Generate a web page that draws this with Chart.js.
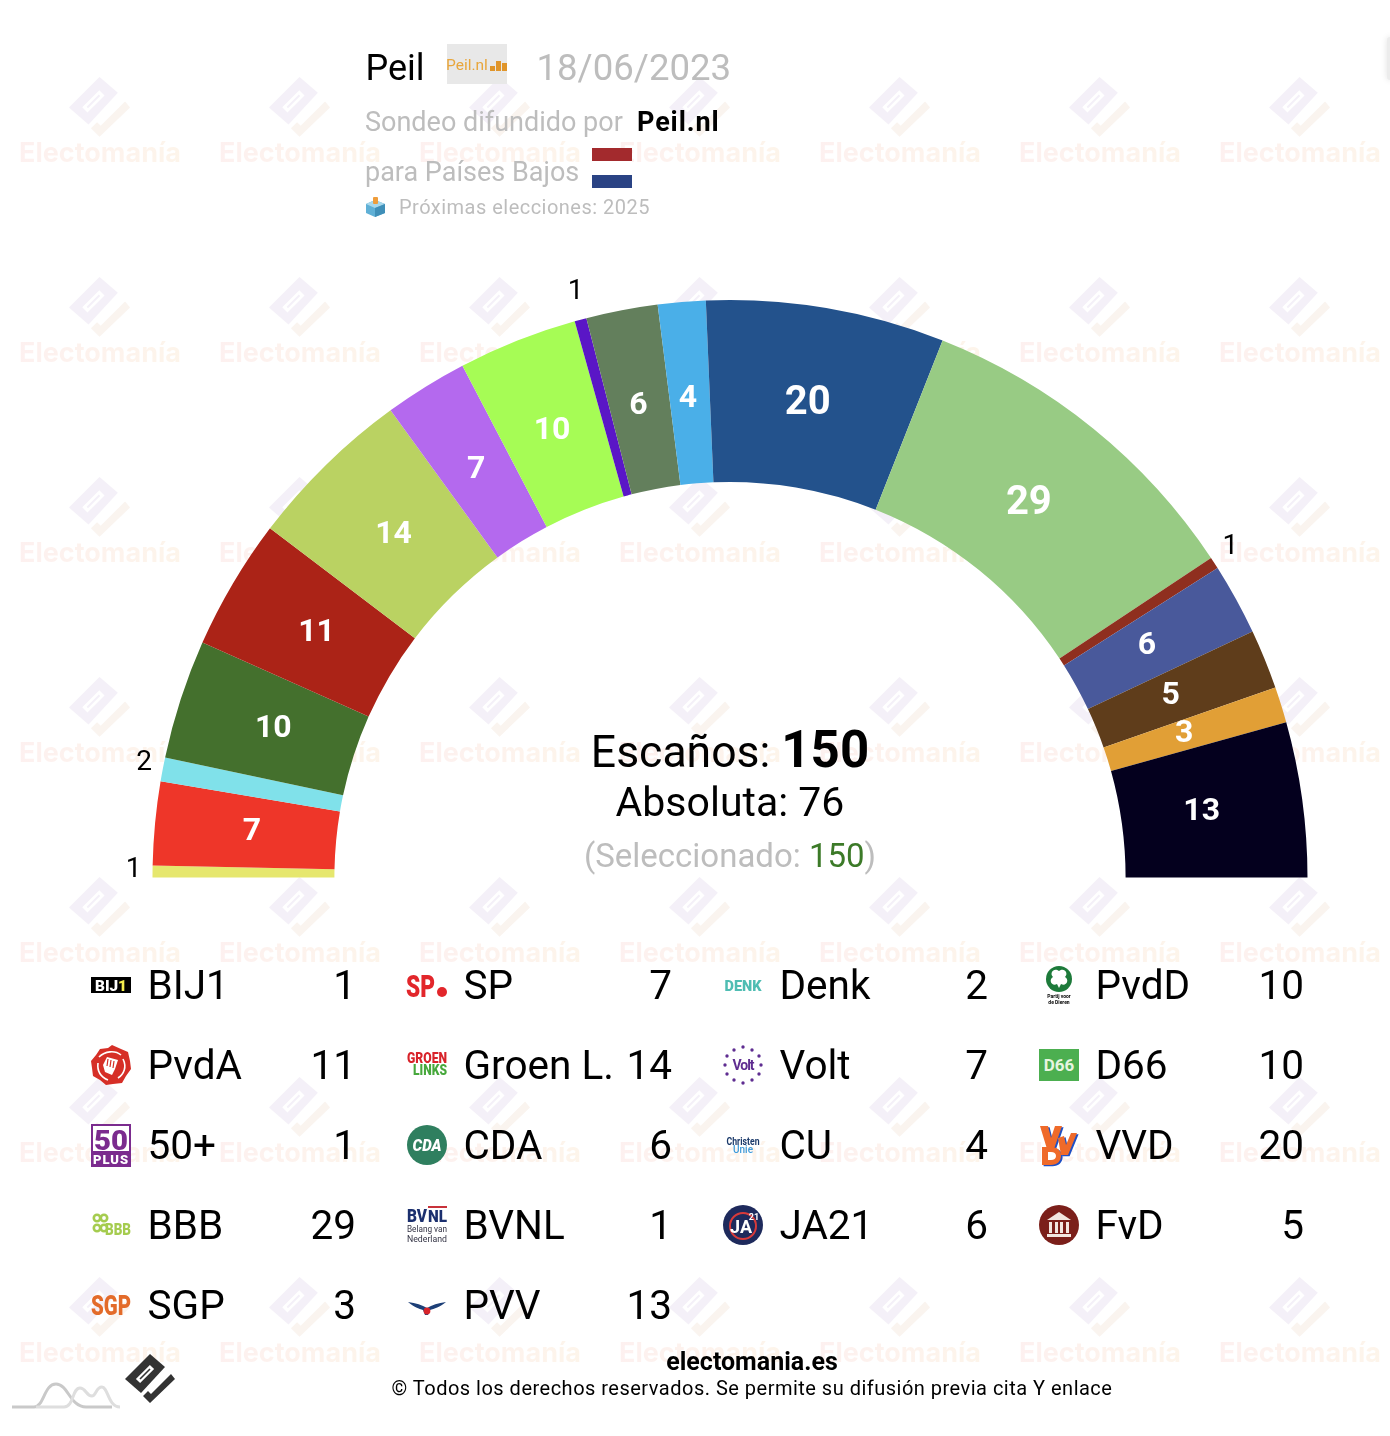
<!DOCTYPE html>
<html lang="es">
<head>
<meta charset="utf-8">
<title>Peil 18/06/2023</title>
<script src="https://cdn.jsdelivr.net/npm/chart.js@4"></script>
<style>
  html, body { margin: 0; padding: 0; background: #fff; }
  body { width: 1390px; height: 1436px; position: relative; overflow: hidden; font-family: Roboto, sans-serif; color: #000; }
  .abs { position: absolute; white-space: nowrap; line-height: 1; }
  #chart { position: absolute; left: 0; top: 0; }
  .wm-text { position: absolute; width: 200px; text-align: center; font: 700 27px Inter, sans-serif; line-height: 30px;
    background: linear-gradient(90deg, #fdf0f0, #fdf5ea); -webkit-background-clip: text; background-clip: text; color: transparent; }
  .wm-mark { position: absolute; width: 61px; height: 61px; }
  .grey { color: #bdbdbd; }
  .center { left: 330px; width: 800px; text-align: center; }
  #legend { position: absolute; left: 91px; top: 945px; display: grid; grid-template-columns: repeat(4, 316px); grid-auto-rows: 80px; }
  .item { position: relative; height: 80px; font-size: 40.5px; }
  .item svg { position: absolute; left: 0; top: 20px; width: 40px; height: 40px; overflow: visible; }
  .item .name { position: absolute; left: 56.5px; top: 20px; line-height: 40px; }
  .item .val { position: absolute; left: 0; width: 265px; text-align: right; top: 20px; line-height: 40px; }
</style>
</head>
<body>
<div id="watermark"></div>
<canvas id="chart" width="1390" height="1436"></canvas>

<div class="abs" style="left:1387px;top:37px;width:6px;height:43px;background:#ececec;border-radius:3px;box-shadow:0 0 6px rgba(0,0,0,.12)"></div>

<div class="abs" style="left:365.5px;top:50px;font-size:36px">Peil</div>
<div class="abs" style="left:447px;top:44px;width:60px;height:40px;background:#e8e8e8"></div>
<div class="abs" style="left:446px;top:58px;font-size:15.5px;color:#e8a63c">Peil.nl</div>
<svg class="abs" style="left:490px;top:61px" width="17" height="10"><rect x="0" y="5" width="5" height="5" fill="#e0952a"/><rect x="6" y="0" width="5" height="10" fill="#e0952a"/><rect x="12" y="2" width="5" height="8" fill="#e0952a"/></svg>
<div class="abs grey" style="left:536.5px;top:50px;font-size:36.6px">18/06/2023</div>
<div class="abs grey" style="left:365px;top:109px;font-size:27px">Sondeo difundido por</div>
<div class="abs" style="left:637px;top:109px;font-size:27px;font-weight:700;letter-spacing:.9px">Peil.nl</div>
<div class="abs grey" style="left:365px;top:159px;font-size:27px">para Países Bajos</div>
<svg class="abs" style="left:592px;top:148px" width="40" height="40"><rect width="40" height="13" fill="#a32a2d"/><rect y="13" width="40" height="14" fill="#fff"/><rect y="27" width="40" height="13" fill="#2a4384"/></svg>
<svg class="abs" style="left:365px;top:197px" width="21" height="21" viewBox="0 0 21 21"><polygon points="1,7 10,3 20,7 20,16 10,20 1,16" fill="#5fb0d6"/><polygon points="1,7 10,11 20,7 10,3" fill="#a8d8ec"/><polygon points="10,11 20,7 20,16 10,20" fill="#3f8fb8"/><rect x="8" y="0" width="5" height="7" rx="1" fill="#ef9d3b"/></svg>
<div class="abs grey" style="left:399px;top:197px;font-size:20px;letter-spacing:.48px">Próximas elecciones: 2025</div>

<div class="abs center" style="top:724px;font-size:44.5px">Escaños: <b style="font-size:51px">150</b></div>
<div class="abs center" style="top:782px;font-size:41px">Absoluta: 76</div>
<div class="abs center grey" style="top:839px;font-size:33px">(Seleccionado: <span style="color:#3c7a28">150</span>)</div>

<div id="legend"></div>

<div class="abs" style="left:352px;width:800px;text-align:center;top:1349px;font-size:25px;font-weight:700">electomania.es</div>
<div class="abs" style="left:352px;width:800px;text-align:center;top:1378px;font-size:20px;letter-spacing:.49px">© Todos los derechos reservados. Se permite su difusión previa cita Y enlace</div>
<svg class="abs" style="left:12px;top:1380px" width="108" height="30" viewBox="0 0 108 30">
  <path d="M0 27 H22 C32 27 32 4 44 4 C56 4 58 27 74 27 H100" fill="none" stroke="#c9c9c9" stroke-width="3"/>
  <path d="M24 27 H52 C62 27 60 8 68 8 C74 8 74 16 80 16 C84 16 84 7 90 7 C96 7 96 27 108 27" fill="none" stroke="#dedede" stroke-width="3"/>
</svg>
<div id="bottom-mark"></div>

<script>
// seats per party, left to right along the arc
const parties = ['BIJ1', 'SP', 'Denk', 'PvdD', 'PvdA', 'Groen L.', 'Volt', 'D66', '50+', 'CDA', 'CU', 'VVD', 'BBB', 'BVNL', 'JA21', 'FvD', 'SGP', 'PVV'];
const seats = [1, 7, 2, 10, 11, 14, 7, 10, 1, 6, 4, 20, 29, 1, 6, 5, 3, 13];
const colors = ['#e6e76e', '#ee3629', '#80e1ea', '#44702d', '#ab2317', '#bad262', '#b469ee', '#a6fc55', '#5a16c6', '#637f5c', '#4aafe8', '#23528c', '#98cb84', '#8f2f1f', '#49599b', '#5f3d1b', '#e19f36', '#04001e'];

const rose = '<path d="M21 0l9 4 7 3 2 9 1 8-5 7-4 7-9 1-7 1-6-5-7-4-1-8-1-7 5-6 4-6 8-1z" fill="#d62f27"/><path d="M8 12c6-6 16-7 22-2M32 14c4 8 1 15-5 19M7 18c-1 8 3 14 10 17" fill="none" stroke="#fff" stroke-width="1.6"/><path d="M12 20l4-8 11 3-3 9-3 6-7-3z" fill="#fff"/><path d="M17 14l-1 7M20 15l-1 7M23 16l-1 7" stroke="#d62f27" stroke-width="1.2"/>';
const stars = [[20,2],[29,5],[36,11],[38,20],[36,29],[29,35],[20,38],[11,35],[4,29],[2,20],[4,11],[11,5]].map(p => `<circle cx="${p[0]}" cy="${p[1]}" r="1.7" fill="#5f2d91"/>`).join('');
const vvdShape = 'M1 1h8l3 12 4-12h7l-8 23H8zM19 13l6-2 2 9 5-12h6l-9 22h-7zM3 22h9c7 0 10 4 10 9s-4 9-10 9H3z';
const logos = {
  'BIJ1': '<rect y="12" width="40" height="16" fill="#000"/><text x="20" y="25.5" text-anchor="middle" font-size="15" font-weight="900" fill="#fff" textLength="32" lengthAdjust="spacingAndGlyphs">BIJ<tspan fill="#f4ee4e">1</tspan></text>',
  'SP': '<text x="-1" y="32" font-size="31" font-weight="900" fill="#e2262b" textLength="29" lengthAdjust="spacingAndGlyphs">SP</text><circle cx="35" cy="27" r="5" fill="#e2262b"/>',
  'Denk': '<text x="20" y="26" text-anchor="middle" font-size="15.5" font-weight="900" fill="#4fbdb3" textLength="37" lengthAdjust="spacingAndGlyphs">DENK</text>',
  'PvdD': '<circle cx="20" cy="14" r="13" fill="#1d7a3a"/><path d="M20 6c5-4 10 2 6 6 5 3 1 10-4 7l-2 4-2-4c-5 3-9-4-4-7-4-4 1-10 6-6z" fill="#fff"/><text x="20" y="33" text-anchor="middle" font-size="5" font-weight="700">Partij voor</text><text x="20" y="39" text-anchor="middle" font-size="5" font-weight="700">de Dieren</text>',
  'PvdA': rose,
  'Groen L.': '<text x="20" y="18" text-anchor="middle" font-size="14" font-weight="900" fill="#d8232a" textLength="40" lengthAdjust="spacingAndGlyphs">GROEN</text><text x="23" y="30" text-anchor="middle" font-size="14" font-weight="900" fill="#47a83c" textLength="34" lengthAdjust="spacingAndGlyphs">LINKS</text>',
  'Volt': stars + '<text x="20" y="25" text-anchor="middle" font-size="14" font-weight="700" fill="#5f2d91" letter-spacing="-1">Volt</text>',
  'D66': '<rect y="4" width="40" height="32" fill="#4caf50"/><text x="20" y="26" text-anchor="middle" font-size="17" font-weight="700" fill="#e8f5e0">D66</text>',
  '50+': '<rect y="-1" width="40" height="43" fill="#7b2b8e"/><rect x="2" y="1" width="36" height="25" fill="#fff"/><text x="20" y="24.5" text-anchor="middle" font-size="28" font-weight="900" fill="#7b2b8e" textLength="34" lengthAdjust="spacingAndGlyphs">50</text><text x="20" y="38.5" text-anchor="middle" font-size="13" font-weight="900" fill="#fff" letter-spacing="1">PLUS</text>',
  'CDA': '<circle cx="20" cy="20" r="20" fill="#2f7f5f"/><text x="20" y="25.5" text-anchor="middle" font-size="16" font-weight="900" font-style="italic" fill="#fff" textLength="29" lengthAdjust="spacingAndGlyphs">CDA</text>',
  'CU': '<text x="20" y="20" text-anchor="middle" font-size="10" font-weight="700" fill="#1b3a6b" textLength="33" lengthAdjust="spacingAndGlyphs">Christen</text><text x="20" y="28" text-anchor="middle" font-size="10" font-weight="500" fill="#3d9bdc">Unie</text>',
  'VVD': `<path d="${vvdShape}" transform="translate(1.6 1.2)" fill="#1f4fc4"/><path d="${vvdShape}" fill="#ef6a2a"/><path d="M9 27h3c3 0 5 1.500 5 4s-2 4-5 4H9z" fill="#fff"/>`,
  'BBB': '<g fill="none" stroke="#a5cc4f" stroke-width="2.6"><circle cx="6" cy="13" r="3.2"/><circle cx="13" cy="13" r="3.2"/><circle cx="6" cy="23" r="3.2"/><circle cx="13" cy="23" r="3.2"/></g><text x="27" y="30" text-anchor="middle" font-size="16" font-weight="900" fill="#a5cc4f" textLength="26" lengthAdjust="spacingAndGlyphs">BBB</text>',
  'BVNL': '<text x="0" y="17" font-size="18" font-weight="900" fill="#1b2f6e" textLength="20" lengthAdjust="spacingAndGlyphs">BV</text><text x="21" y="17" font-size="17" font-weight="900" fill="#1b2f6e" textLength="19" lengthAdjust="spacingAndGlyphs">NL</text><rect x="21" y="1" width="19" height="2" fill="#c8323a"/><text x="0" y="27" font-size="8.5" fill="#334" textLength="40" lengthAdjust="spacingAndGlyphs">Belang van</text><text x="0" y="37" font-size="8.5" fill="#334" textLength="40" lengthAdjust="spacingAndGlyphs">Nederland</text>',
  'JA21': '<circle cx="20" cy="20" r="20" fill="#1e2a5c"/><circle cx="20" cy="21" r="13" fill="none" stroke="#d83a3a" stroke-width="2"/><text x="18" y="28" text-anchor="middle" font-size="18" font-weight="700" fill="#fff">JA</text><text x="31" y="15" text-anchor="middle" font-size="9" font-weight="700" fill="#fff">21</text>',
  'FvD': '<circle cx="20" cy="20" r="20" fill="#7b1f1a"/><path d="M8 15L20 7l12 8z" fill="#f2e6e0"/><path d="M10 17h3v11h-3zM16 17h3v11h-3zM21 17h3v11h-3zM27 17h3v11h-3zM8 29h24v3H8z" fill="#f2e6e0"/>',
  'SGP': '<text x="20" y="30" text-anchor="middle" font-size="28" font-weight="900" fill="#e36b2a" textLength="40" lengthAdjust="spacingAndGlyphs">SGP</text>',
  'PVV': '<path d="M1 17c8 1 14 3 19 6 5-3 11-5 19-6-6 5-12 7-16 8l-2 5-3 0-2-5C12 24 7 22 1 17z" fill="#1d3f77"/><circle cx="20" cy="26" r="3.4" fill="#d8232a"/>'
};

// watermark grid behind everything
const markSvg = (main, tail, slot) => `<svg viewBox="0 0 50 50" width="100%" height="100%"><polygon points="25,0 40,13 16,39 0,25" fill="${main}"/><line x1="13" y1="27" x2="27" y2="13" stroke="${slot}" stroke-width="6"/><line x1="15" y1="25" x2="25" y2="15" stroke="${main}" stroke-width="1.6"/><polygon points="46,20 50,25 25,49 18,42 23,37 26,40" fill="${tail}"/></svg>`;
const watermark = document.getElementById('watermark');
for (let row = 0; row < 7; row++) {
  for (let col = 0; col < 7; col++) {
    const x = col * 200, y = row * 200;
    const mark = document.createElement('div');
    mark.className = 'wm-mark';
    mark.style.left = (x + 69) + 'px';
    mark.style.top = (y + 77) + 'px';
    mark.innerHTML = markSvg('#f4f0f8', '#faf4ef', '#fff');
    watermark.appendChild(mark);
    const text = document.createElement('div');
    text.className = 'wm-text';
    text.style.left = x + 'px';
    text.style.top = (y + 138) + 'px';
    text.textContent = 'Electomanía';
    watermark.appendChild(text);
  }
}
const bottomMark = document.getElementById('bottom-mark');
bottomMark.className = 'abs';
bottomMark.style.cssText += 'left:125px;top:1354px;width:50px;height:50px';
bottomMark.innerHTML = markSvg('#333', '#333', '#fff');

// legend table, filled row by row in arc order
const legend = document.getElementById('legend');
parties.forEach((name, i) => {
  const item = document.createElement('div');
  item.className = 'item';
  item.innerHTML = `<svg viewBox="0 0 40 40" font-family="Roboto, sans-serif">${logos[name]}</svg><span class="name">${name}</span><span class="val">${seats[i]}</span>`;
  legend.appendChild(item);
});

// seat numbers: white inside the ring, black just outside for the tiny slices
const seatLabels = {
  id: 'seatLabels',
  afterDatasetsDraw(chart) {
    const { ctx } = chart;
    ctx.save();
    ctx.textAlign = 'center';
    ctx.textBaseline = 'middle';
    chart.getDatasetMeta(0).data.forEach((arc, i) => {
      const { x, y, startAngle, endAngle, innerRadius, outerRadius } = arc.getProps(['x', 'y', 'startAngle', 'endAngle', 'innerRadius', 'outerRadius'], true);
      const mid = (startAngle + endAngle) / 2;
      const value = seats[i];
      if (value <= 2) {
        const r = outerRadius + 19;
        ctx.fillStyle = '#000';
        ctx.font = '400 28px Roboto';
        ctx.fillText(value, x + Math.cos(mid) * r, y + Math.sin(mid) * r * 1.014 - 1);
      } else {
        // the original labels sit slightly left of the true ring centre
        const r = innerRadius + (outerRadius - innerRadius) * 0.48;
        ctx.fillStyle = '#fff';
        ctx.font = value >= 20 ? '700 40px Roboto' : '700 32px Roboto';
        ctx.fillText(value, x + Math.cos(mid) * r * 0.99 - 2, y + Math.sin(mid) * r * 0.994);
      }
    });
    ctx.restore();
  }
};

new Chart(document.getElementById('chart'), {
  type: 'doughnut',
  data: {
    labels: parties,
    datasets: [{ data: seats, backgroundColor: colors, borderWidth: 0, hoverOffset: 0 }]
  },
  options: {
    responsive: false,
    animation: false,
    rotation: -90,
    circumference: 180,
    cutout: '68.5%',
    layout: { padding: { left: 152.5, top: 300, right: 82.5, bottom: 558.5 } },
    plugins: { legend: { display: false }, tooltip: { enabled: false } }
  },
  plugins: [seatLabels]
});
</script>
</body>
</html>
